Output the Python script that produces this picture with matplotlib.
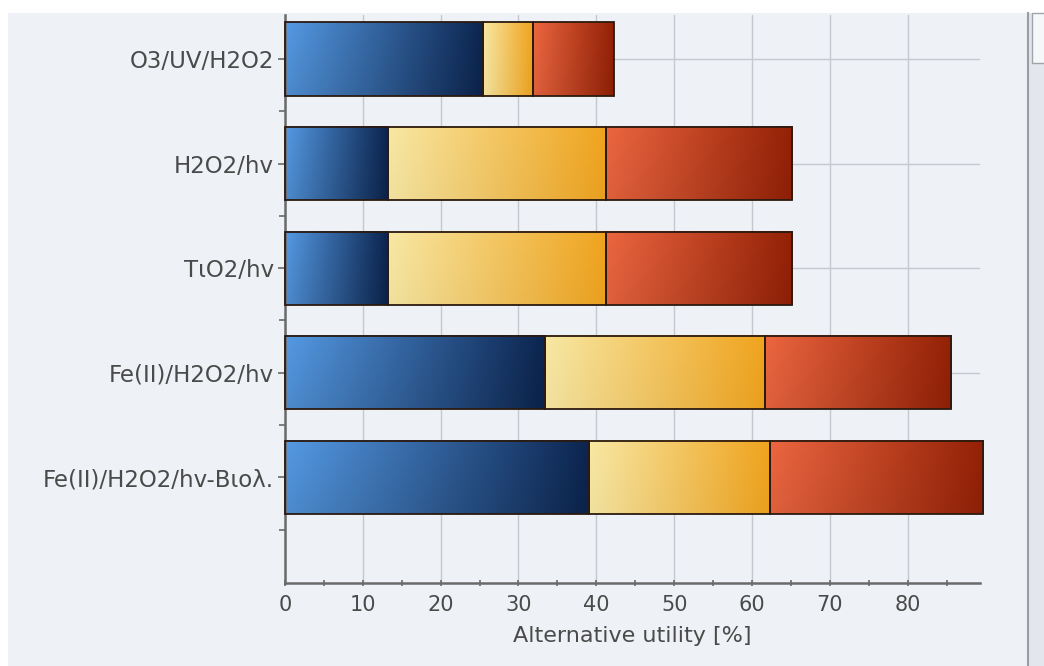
import matplotlib.pyplot as plt
import numpy as np
from matplotlib.colors import to_rgb
from matplotlib.patches import Rectangle

# Alternative utility per treatment process, split into three criteria groups
processes = ['O3/UV/H2O2', 'H2O2/hv', 'TιO2/hv', 'Fe(II)/H2O2/hv', 'Fe(II)/H2O2/hv-Βιολ.']
part_blue = [25.5, 13.2, 13.2, 33.4, 39.1]
part_yellow = [6.4, 28.1, 28.1, 28.3, 23.2]
part_red = [10.4, 23.9, 23.9, 23.9, 27.4]

xticks = [0, 10, 20, 30, 40, 50, 60, 70, 80]
xlabel = 'Alternative utility [%]'

# left/right colours of each gradient segment
grad_blue = ('#559ae4', '#0c2550')
grad_yellow = ('#f8e8a4', '#f0a41e')
grad_red = ('#ec6640', '#942106')

bg = '#eef1f5'
text_col = '#4a4a4a'
axis_col = '#6a6a6a'


def gradient_bar(ax, left, width, y, height, colors, shade=0.08):
    c0 = np.array(to_rgb(colors[0]))
    c1 = np.array(to_rgb(colors[1]))
    nx, ny = 200, 40
    tx = np.linspace(0, 1, nx)[None, :, None]
    ty = np.linspace(0, 1, ny)[:, None, None]
    img = c0 + (c1 - c0) * tx
    # a touch darker towards the bottom edge
    img = img * (1.0 - shade * ty)
    img = np.clip(img, 0, 1)
    ax.imshow(img, extent=[left, left + width, y + height / 2, y - height / 2],
              aspect='auto', interpolation='bilinear', zorder=2, clip_on=False)
    ax.add_patch(Rectangle((left, y - height / 2), width, height, facecolor='none',
                           edgecolor='#2b1a10', linewidth=1.3, zorder=3, clip_on=False))


fig = plt.figure(figsize=(10.44, 6.66), dpi=100, facecolor='white')
fig.patches.append(Rectangle((8 / 1044, 0), 1020 / 1044, 653 / 666, transform=fig.transFigure,
                             facecolor=bg, edgecolor='none', zorder=-10))
fig.patches.append(Rectangle((1029 / 1044, 0), 15 / 1044, 653 / 666, transform=fig.transFigure,
                             facecolor='#e3e7ed', edgecolor='none', zorder=-10))
fig.lines.append(plt.Line2D([1028 / 1044, 1028 / 1044], [0, 653 / 666], transform=fig.transFigure,
                            color='#9a9da3', linewidth=1.5, zorder=-5))
fig.patches.append(Rectangle((1032 / 1044, 603 / 666), 14 / 1044, 50 / 666, transform=fig.transFigure,
                             facecolor='#f6f7f9', edgecolor='#a0a4aa', linewidth=1, zorder=-5))

ax = fig.add_axes([285 / 1044, 1 - 583 / 666, 695 / 1044, 568 / 666])
ax.set_facecolor(bg)

ypos = np.arange(len(processes))
h = 0.7
for i, y in enumerate(ypos):
    b, yl, r = part_blue[i], part_yellow[i], part_red[i]
    gradient_bar(ax, 0, b, y, h, grad_blue, shade=0.1)
    gradient_bar(ax, b, yl, y, h, grad_yellow, shade=0.03)
    gradient_bar(ax, b + yl, r, y, h, grad_red, shade=0.06)

ax.set_xlim(0, 89.3)
ax.set_ylim(5.01, -0.42)

ax.set_xticks(xticks)
ax.set_xticks(np.arange(5, 90, 10), minor=True)
ax.set_yticks(ypos)
ax.set_yticklabels(processes, fontsize=16.5)
ax.set_yticks(np.arange(0.5, 5, 1.0), minor=True)

ax.grid(True, which='major', color='#c5c9cf', linewidth=1, zorder=1)
ax.set_axisbelow(True)

for side in ['top', 'right']:
    ax.spines[side].set_visible(False)
for side in ['left', 'bottom']:
    ax.spines[side].set_color(axis_col)
    ax.spines[side].set_linewidth(1.8)

ax.tick_params(axis='both', which='major', labelcolor=text_col,
               color=axis_col, length=5, width=1.2, pad=3)
ax.tick_params(axis='x', which='major', labelsize=15, pad=6)
ax.tick_params(axis='both', which='minor', color=axis_col, length=4, width=1.2)
ax.tick_params(axis='x', which='both', direction='inout')

ax.set_xlabel(xlabel, fontsize=16, color=text_col, labelpad=8)

fig.savefig('out.png', dpi=100, facecolor=fig.get_facecolor())
